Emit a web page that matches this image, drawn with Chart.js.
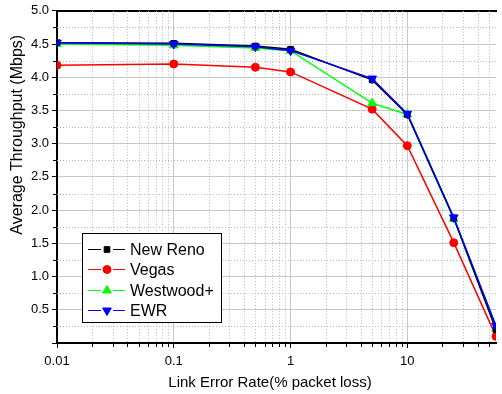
<!DOCTYPE html>
<html>
<head>
<meta charset="utf-8">
<script src="https://cdn.jsdelivr.net/npm/chart.js@4.4.0/dist/chart.umd.min.js"></script>
<style>
  html, body { margin: 0; padding: 0; background: #fff; }
</style>
</head>
<body>
<canvas id="chart" width="502" height="394"></canvas>
<script>
// link error rate (% packet loss)
const errorRates = [0.01, 0.1, 0.5, 1, 5, 10, 25, 57.5];

// average throughput (Mbps)
const newReno  = [4.52, 4.51, 4.47, 4.42, 3.96, 3.44, 1.88, 0.20];
const vegas    = [4.18, 4.20, 4.15, 4.08, 3.52, 2.97, 1.51, 0.10];
const westwood = [4.50, 4.48, 4.44, 4.40, 3.61, 3.44, 1.87, 0.22];
const ewr      = [4.52, 4.50, 4.46, 4.40, 3.98, 3.45, 1.89, 0.26];

const xMin = 0.01, xMax = 57.5;
const yMin = 0, yMax = 5;

const FONT = '"Liberation Sans", Arial, sans-serif';
const MAJOR_GRID = '#c8c8c8';
const MINOR_GRID = '#b8b8b8';
const CLEAR = 'rgba(0,0,0,0)';

function isDecade(v) {
  const l = Math.log10(v);
  return Math.abs(l - Math.round(l)) < 1e-6;
}

function toPoints(vals) {
  return errorRates.map((x, i) => ({ x: x, y: vals[i] }));
}

function series(label, vals, color, style, radius, rotation, order) {
  return {
    label: label,
    data: toPoints(vals),
    borderColor: color,
    backgroundColor: color,
    borderWidth: 1.5,
    pointStyle: style,
    pointRadius: radius,
    pointRotation: rotation,
    pointBorderWidth: 1,
    tension: 0,
    order: order
  };
}

// dotted minor grid + short minor tick marks, placed through the scales
const minorGrid = {
  id: 'minorGrid',
  beforeDatasetsDraw(chart) {
    const { ctx, chartArea, scales } = chart;
    const xs = [];
    for (let e = -2; e <= 1; e++) {
      for (let k = 2; k <= 9; k++) {
        const v = k * Math.pow(10, e);
        if (v > xMin && v < xMax) xs.push(v);
      }
    }
    const ys = [];
    for (let v = yMin + 0.25; v < yMax; v += 0.5) ys.push(v);

    ctx.save();
    ctx.lineWidth = 1;
    ctx.strokeStyle = MINOR_GRID;
    ctx.setLineDash([1, 2]);
    ctx.beginPath();
    xs.forEach(v => {
      const px = Math.round(scales.x.getPixelForValue(v)) + 0.5;
      ctx.moveTo(px, chartArea.top); ctx.lineTo(px, chartArea.bottom);
    });
    ys.forEach(v => {
      const py = Math.round(scales.y.getPixelForValue(v)) + 0.5;
      ctx.moveTo(chartArea.left, py); ctx.lineTo(chartArea.right, py);
    });
    ctx.stroke();

    ctx.setLineDash([]);
    ctx.strokeStyle = '#000';
    ctx.beginPath();
    xs.forEach(v => {
      const px = Math.round(scales.x.getPixelForValue(v)) + 0.5;
      ctx.moveTo(px, chartArea.bottom); ctx.lineTo(px, chartArea.bottom + 4);
    });
    ys.forEach(v => {
      const py = Math.round(scales.y.getPixelForValue(v)) + 0.5;
      ctx.moveTo(chartArea.left - 4, py); ctx.lineTo(chartArea.left, py);
    });
    ctx.stroke();
    ctx.restore();
  }
};

// legend drawn inside the plot, lower left
const insideLegend = {
  id: 'insideLegend',
  afterDatasetsDraw(chart) {
    const { ctx, chartArea } = chart;
    const w = 139, h = 89;
    const x = chartArea.left + 25;
    const y = chartArea.bottom - 21 - h;
    ctx.save();
    ctx.fillStyle = '#fff';
    ctx.fillRect(x, y, w, h);
    ctx.strokeStyle = '#000';
    ctx.lineWidth = 1;
    ctx.strokeRect(x + 0.5, y + 0.5, w, h);
    ctx.font = '16px ' + FONT;
    ctx.textBaseline = 'middle';
    chart.data.datasets.forEach((ds, i) => {
      const cy = Math.round(y + 16 + i * 20.3) + 0.5;
      ctx.strokeStyle = ds.borderColor;
      ctx.lineWidth = 1;
      ctx.beginPath();
      ctx.moveTo(x + 6, cy); ctx.lineTo(x + 19, cy);
      ctx.moveTo(x + 31, cy); ctx.lineTo(x + 43, cy);
      ctx.stroke();
      ctx.fillStyle = ds.backgroundColor;
      Chart.helpers.drawPoint(ctx, {
        pointStyle: ds.pointStyle,
        radius: ds.pointRadius,
        rotation: ds.pointRotation,
        borderWidth: 1
      }, x + 25, cy);
      ctx.fillStyle = '#000';
      ctx.fillText(ds.label, x + 48, cy + 1);
    });
    ctx.restore();
  }
};

// axis titles sit off-centre in the original, so place them by hand
const axisTitles = {
  id: 'axisTitles',
  afterDraw(chart) {
    const { ctx, chartArea } = chart;
    ctx.save();
    ctx.fillStyle = '#000';
    ctx.textAlign = 'center';
    ctx.textBaseline = 'middle';
    ctx.font = '15px ' + FONT;
    ctx.fillText('Link Error Rate(% packet loss)', chartArea.left + 213, chartArea.bottom + 40);
    ctx.translate(18, chartArea.top + 124);
    ctx.rotate(-Math.PI / 2);
    ctx.font = '16px ' + FONT;
    ctx.fillText('Average Throughput (Mbps)', 0, 0);
    ctx.restore();
  }
};

new Chart(document.getElementById('chart'), {
  type: 'line',
  data: {
    datasets: [
      series('New Reno', newReno, '#000000', 'rect', 4, 0, 1),
      series('Vegas', vegas, '#ff0000', 'circle', 4, 0, 3),
      series('Westwood+', westwood, '#00ff00', 'triangle', 5, 0, 2),
      series('EWR', ewr, '#0000ff', 'triangle', 5, 180, 0)
    ]
  },
  options: {
    responsive: false,
    animation: false,
    devicePixelRatio: 1,
    layout: { padding: 0 },
    plugins: {
      legend: { display: false },
      tooltip: { enabled: false }
    },
    scales: {
      x: {
        type: 'logarithmic',
        position: 'bottom',
        min: xMin,
        max: xMax,
        afterFit(scale) { scale.height = 51; },
        ticks: {
          autoSkip: false,
          maxRotation: 0,
          padding: 6,
          color: '#000',
          font: { family: FONT, size: 13 },
          callback: (v) => isDecade(v) ? String(Number(v.toPrecision(3))) : ''
        },
        grid: {
          color: (c) => (c.tick && isDecade(c.tick.value)) ? MAJOR_GRID : CLEAR,
          tickColor: (c) => (c.tick && isDecade(c.tick.value)) ? '#000' : CLEAR,
          tickLength: 5,
          lineWidth: 1
        },
        border: { color: '#000', width: 2 }
      },
      xTop: {
        type: 'logarithmic',
        position: 'top',
        min: xMin,
        max: xMax,
        afterFit(scale) { scale.height = 10; },
        ticks: { display: false },
        grid: { drawOnChartArea: false, drawTicks: false },
        border: { color: '#000', width: 2 }
      },
      y: {
        type: 'linear',
        min: yMin,
        max: yMax,
        afterFit(scale) { scale.width = 57; },
        ticks: {
          stepSize: 0.5,
          autoSkip: false,
          padding: 3,
          color: '#000',
          font: { family: FONT, size: 13 },
          callback: (v) => v > 0 ? v.toFixed(1) : ''
        },
        grid: {
          color: MAJOR_GRID,
          tickColor: '#000',
          tickLength: 5,
          lineWidth: 1
        },
        border: { color: '#000', width: 2 }
      }
    }
  },
  plugins: [minorGrid, insideLegend, axisTitles]
});
</script>
</body>
</html>
